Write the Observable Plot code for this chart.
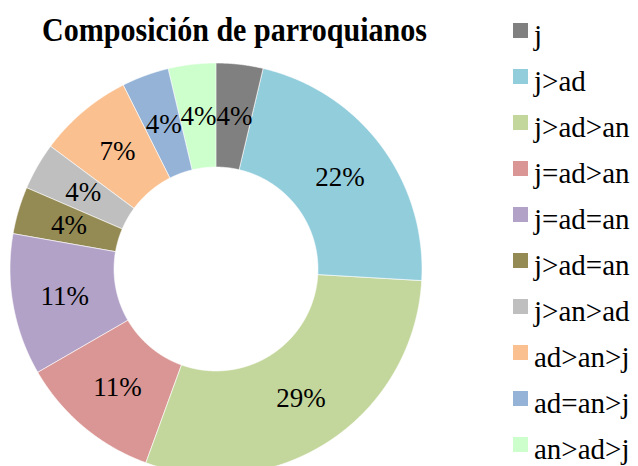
<!DOCTYPE html>
<html>
<head>
<meta charset="utf-8">
<script src="https://cdn.jsdelivr.net/npm/d3@7"></script>
<script src="https://cdn.jsdelivr.net/npm/@observablehq/plot@0.6"></script>
<style>
  html, body { margin: 0; padding: 0; background: #fff; font-family: 'Liberation Serif', serif; }
  #wrap { position: relative; width: 638px; height: 466px; overflow: hidden; }
  #title { position: absolute; left: 0; top: 14.4px; width: 469px; text-align: center; white-space: nowrap;
    font-family: 'Liberation Serif', serif; font-weight: bold; font-size: 33px; line-height: 1; color: #000;
    transform: scaleX(0.91); transform-origin: 234.5px 0; }
  #legend { position: absolute; left: 0; top: 0; width: 638px; height: 466px; font-family: 'Liberation Serif', serif;
    font-size: 29px; line-height: 1; color: #000; }
  .sw { position: absolute; left: 513.3px; width: 15px; height: 15px; }
  .lt { position: absolute; left: 534px; white-space: nowrap; }
  #chart { position: absolute; left: 0; top: 0; }
  #chart text { font-family: 'Liberation Serif', serif; }
</style>
</head>
<body>
<div id="wrap">
  <div id="chart"></div>
  <div id="title"></div>
  <div id="legend"></div>
</div>
<script>
const title = "Composición de parroquianos";
const categories = ["j", "j>ad", "j>ad>an", "j=ad>an", "j=ad=an", "j>ad=an", "j>an>ad", "ad>an>j", "ad=an>j", "an>ad>j"];
const shares = [3.7, 22.2, 29.6, 11.1, 11.1, 3.7, 3.7, 7.4, 3.7, 3.7];
const labels = ["4%", "22%", "29%", "11%", "11%", "4%", "4%", "7%", "4%", "4%"];
const colors = ["#808080", "#92CDDC", "#C3D69B", "#D99694", "#B2A2C7", "#948A54", "#BFBFBF", "#FAC090", "#95B3D7", "#CCFFCC"];

const inner = 0.495, outer = 1;
const pie = d3.pie().sort(null).value(d => d)(shares);

// annular sector outlines, sampled along the arc
const pts = [];
pie.forEach((p, i) => {
  const n = Math.max(8, Math.ceil((p.endAngle - p.startAngle) / 0.005));
  for (let k = 0; k <= n; k++) {
    const a = p.startAngle + (p.endAngle - p.startAngle) * k / n;
    pts.push({cat: categories[i], x1: inner * Math.sin(a), y1: inner * Math.cos(a), x2: outer * Math.sin(a), y2: outer * Math.cos(a)});
  }
});
const labelData = pie.map((p, i) => {
  const a = (p.startAngle + p.endAngle) / 2, r = (inner + outer) / 2;
  return {cat: categories[i], text: labels[i], x: r * Math.sin(a), y: r * Math.cos(a)};
});

const chart = Plot.plot({
  width: 638, height: 466,
  margin: 0,
  style: {background: "transparent", overflow: "visible", fontFamily: "'Liberation Serif', serif"},
  x: {domain: [-1, 1], range: [10, 422], axis: null},
  y: {domain: [-1, 1], range: [475, 63], axis: null},
  color: {domain: categories, range: colors},
  marks: [
    Plot.area(pts, {x1: "x1", y1: "y1", x2: "x2", y2: "y2", z: "cat", fill: "cat", stroke: "white", strokeWidth: 0.6, curve: "linear"}),
    Plot.text(labelData, {x: "x", y: "y", text: "text", fill: "black", fontSize: 27, fontFamily: "'Liberation Serif', serif", textAnchor: "middle", lineAnchor: "middle"})
  ]
});
document.getElementById("chart").appendChild(chart);
document.getElementById("title").textContent = title;

const legend = document.getElementById("legend");
categories.forEach((c, i) => {
  const cy = 30 + i * 46;
  const sw = document.createElement("div");
  sw.className = "sw";
  sw.style.top = (cy - 7.5) + "px";
  sw.style.background = colors[i];
  const t = document.createElement("div");
  t.className = "lt";
  t.style.top = (cy - 8.8) + "px";
  t.textContent = c;
  legend.appendChild(sw); legend.appendChild(t);
});
</script>
</body>
</html>
